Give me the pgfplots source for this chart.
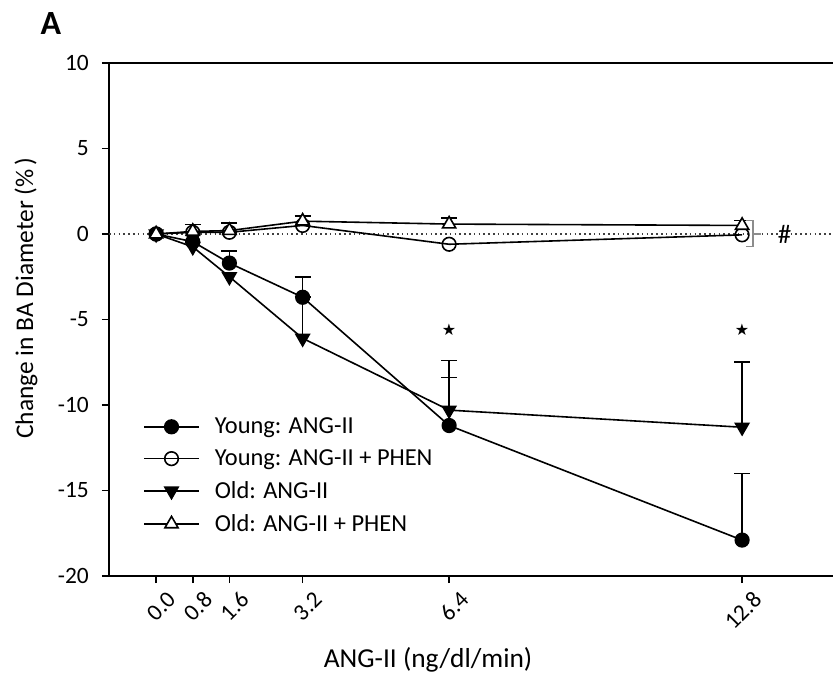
\documentclass[border=0pt]{standalone}
\usepackage{pgfplots}
\pgfplotsset{compat=1.18}
\usepackage{fontspec}
\setmainfont{Carlito}
\newfontfamily\symfont{DejaVu Sans}
\begin{document}
\begin{tikzpicture}
\useasboundingbox (-109bp,-101bp) rectangle (724bp,576bp);
\begin{axis}[
  scale only axis,
  width=756.7bp, height=513bp,
  xmin=-1.03, xmax=15.5, ymin=-20, ymax=10,
  xtick={0,0.8,1.6,3.2,6.4,12.8},
  xticklabels={0.0,0.8,1.6,3.2,6.4,12.8},
  ytick={-20,-15,-10,-5,0,5,10},
  xtick pos=bottom, ytick pos=left,
  tick align=outside,
  major tick length=7bp,
  axis line style={line width=1.6bp},
  tick style={line width=1.6bp, black},
  /pgf/number format/assume math mode=true,
  ticklabel style={font=\fontsize{23.5}{27}\selectfont},
  xticklabel style={rotate=45, anchor=east, inner sep=0pt, xshift=2bp, yshift=-20bp},
  yticklabel style={inner sep=0pt, xshift=-13bp},
  xlabel={ANG-II (ng/dl/min)},
  ylabel={Change in BA Diameter (\%\,)},
  label style={font=\fontsize{25.5}{30}\selectfont},
  xlabel style={font=\fontsize{27.5}{32}\selectfont, at={(axis description cs:0.4216,-0.1637)}, anchor=center},
  ylabel style={at={(axis description cs:-0.1097,0.5419)}, anchor=center},
  legend style={draw=none, fill=none, at={(axis description cs:0.041,0.312)}, anchor=north west,
    font=\fontsize{24.5}{29}\selectfont, row sep=14.5bp, column sep=15bp,
    nodes={inner sep=0pt}},
  legend cell align=left,
  legend image code/.code={\draw[mark repeat=2,mark phase=2,#1] plot coordinates {(0bp,0bp) (27.5bp,0bp) (55bp,0bp)};},
  every axis plot/.append style={line width=1.6bp, black},
  clip=false,
]
% zero reference line
\addplot[forget plot, black!75, line width=1.6bp, dash pattern=on 1.6bp off 3.2bp] coordinates {(-1.03,0) (15.5,0)};

% error bars (upward only)
\addplot[forget plot, only marks, mark=none,
  error bars/.cd, y dir=plus, y explicit,
  error bar style={black, line width=1.6bp, solid},
  error mark options={rotate=90, black, mark size=8bp, line width=1.6bp}]
  coordinates {(1.6,-1.7) +- (0,0.7) (3.2,-3.7) +- (0,1.2) (6.4,-11.2) +- (0,2.8) (12.8,-17.9) +- (0,3.9)};
\addplot[forget plot, only marks, mark=none,
  error bars/.cd, y dir=plus, y explicit,
  error bar style={black, line width=1.6bp, solid},
  error mark options={rotate=90, black, mark size=8bp, line width=1.6bp}]
  coordinates {(3.2,-6.1) +- (0,2.4) (6.4,-10.3) +- (0,2.9) (12.8,-11.3) +- (0,3.8)};
\addplot[forget plot, only marks, mark=none,
  error bars/.cd, y dir=plus, y explicit,
  error bar style={black, line width=1.6bp, solid},
  error mark options={rotate=90, black, mark size=8bp, line width=1.6bp}]
  coordinates {(0.8,0.15) +- (0,0.4) (1.6,0.2) +- (0,0.45) (3.2,0.75) +- (0,0.3) (6.4,0.58) +- (0,0.36) (12.8,0.5) +- (0,0.3)};

% series
\addplot[mark=*, mark size=6.8bp, mark options={solid, fill=black}]
  coordinates {(0,0) (0.8,-0.45) (1.6,-1.7) (3.2,-3.7) (6.4,-11.2) (12.8,-17.9)};
\addlegendentry{Young: ANG-II}
\addplot[mark=o, mark size=6.8bp, mark options={solid, fill=white}]
  coordinates {(0,0) (0.8,0.1) (1.6,0.1) (3.2,0.5) (6.4,-0.6) (12.8,-0.05)};
\addlegendentry{Young: ANG-II + PHEN}
\addplot[mark=triangle*, mark size=7.6bp, mark options={solid, fill=black, rotate=180}]
  coordinates {(0,0) (0.8,-0.75) (1.6,-2.5) (3.2,-6.1) (6.4,-10.3) (12.8,-11.3)};
\addlegendentry{Old: ANG-II}
\addplot[mark=triangle*, mark size=7.6bp, mark options={solid, fill=white}]
  coordinates {(0,0) (0.8,0.15) (1.6,0.2) (3.2,0.75) (6.4,0.58) (12.8,0.5)};
\addlegendentry{Old: ANG-II + PHEN}

% annotations
\node[font=\symfont\fontsize{16}{18}\selectfont, inner sep=0pt] at (axis cs:6.4,-5.6) {★};
\node[font=\symfont\fontsize{16}{18}\selectfont, inner sep=0pt] at (axis cs:12.8,-5.6) {★};
\draw[black!45, line width=1.5bp] (axis cs:12.88,0.78) -- (axis cs:13.04,0.78) -- (axis cs:13.04,-0.74) -- (axis cs:12.88,-0.74);
\draw[black!45, line width=1.5bp] (axis cs:13.04,0) -- (axis cs:13.22,0);
\node[font=\fontsize{27}{31}\selectfont, inner sep=0pt] at (axis cs:13.73,0) {\#};
\end{axis}
\node[font=\bfseries\fontsize{34}{40}\selectfont] at (-58bp,552bp) {A};
\end{tikzpicture}
\end{document}
